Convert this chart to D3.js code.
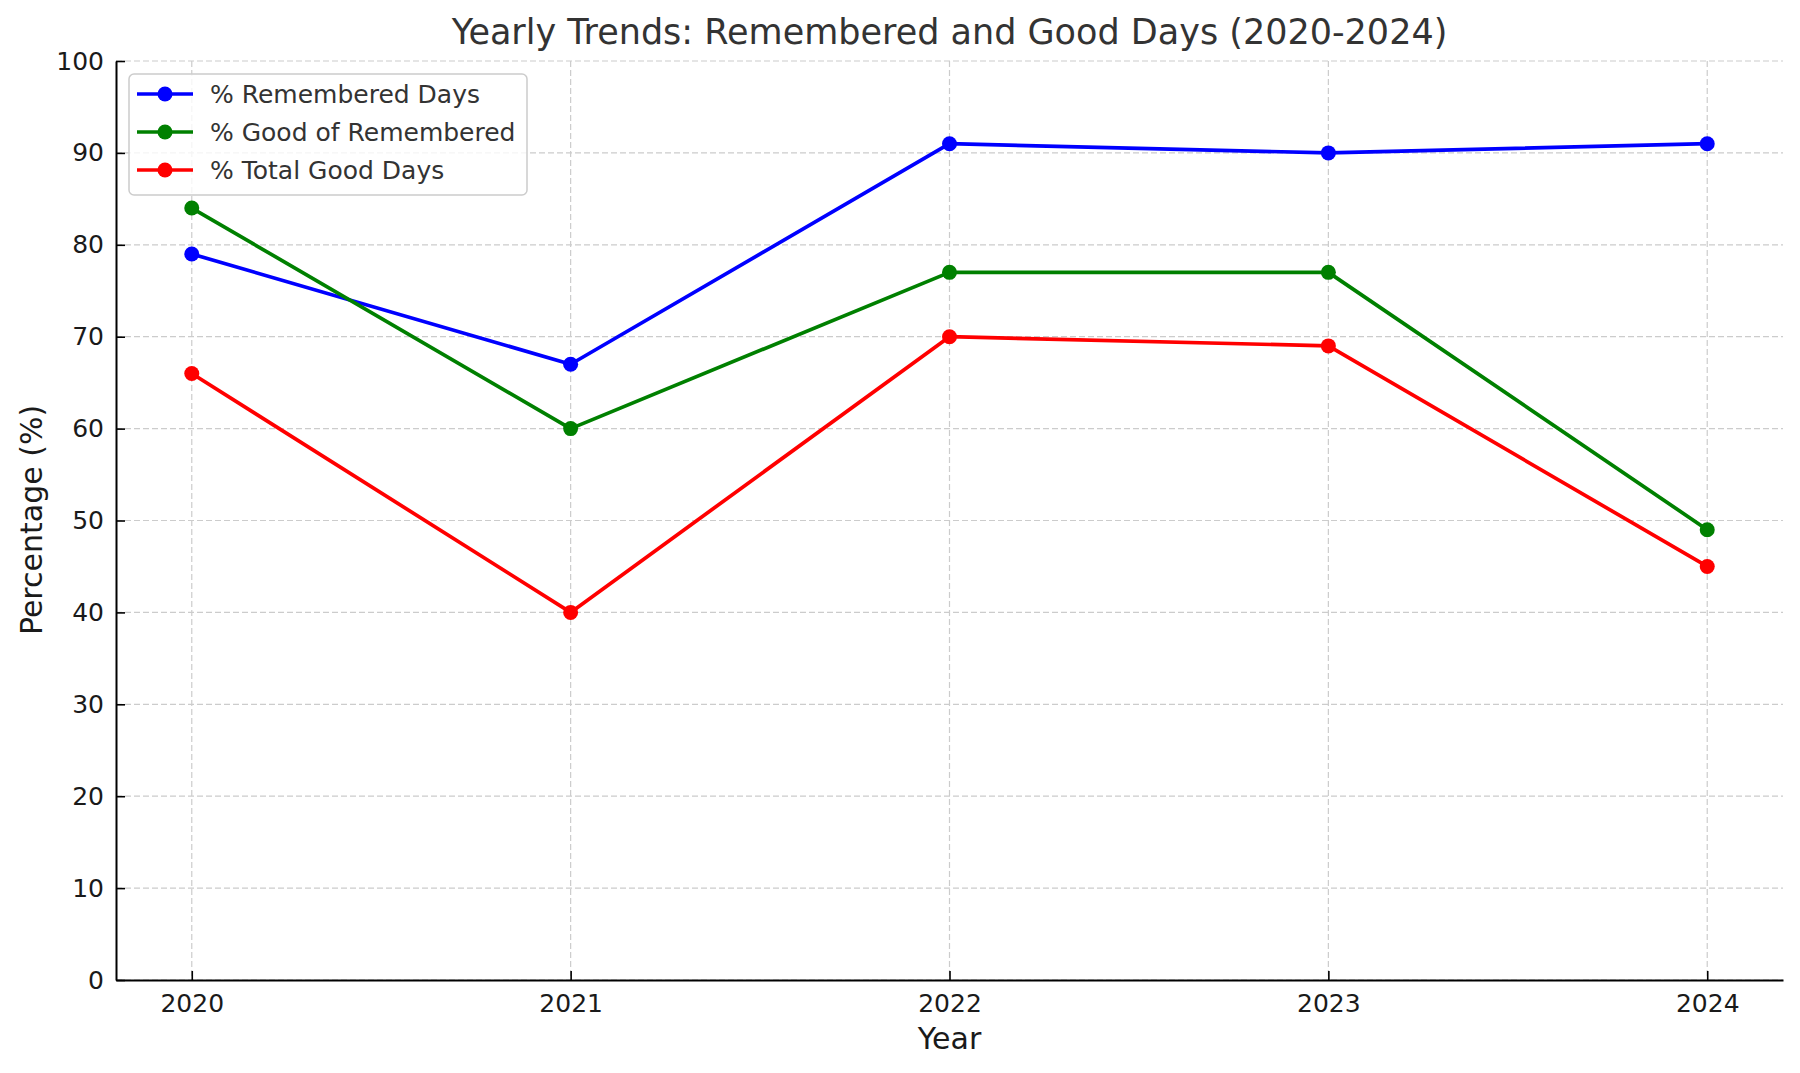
<!DOCTYPE html>
<html><head><meta charset="utf-8">
<script src="https://cdn.jsdelivr.net/npm/d3@7/dist/d3.min.js"></script>
<style>body{margin:0;background:#fff}svg{display:block}text{font-family:"DejaVu Sans",sans-serif}</style>
</head><body>
<svg id="c" width="1800" height="1073"></svg>
<script>
const years = [2020, 2021, 2022, 2023, 2024];
const remembered = [79, 67, 91, 90, 91];
const goodOfRemembered = [84, 60, 77, 77, 49];
const totalGood = [66, 40, 70, 69, 45];
const seriesNames = ["% Remembered Days", "% Good of Remembered", "% Total Good Days"];
const seriesColors = ["#0000ff", "#008000", "#ff0000"];
const yTicks = [0, 10, 20, 30, 40, 50, 60, 70, 80, 90, 100];

const series = [remembered, goodOfRemembered, totalGood].map((v, i) => ({name: seriesNames[i], color: seriesColors[i], values: v}));

const svg = d3.select("#c");
const L = 116, R = 1783, T = 61, B = 980;
const x = d3.scaleLinear().domain([2019.8, 2024.2]).range([L, R]);
const y = d3.scaleLinear().domain([0, 100]).range([B, T]);

// grid
const g = svg.append("g");
g.selectAll("line.gy").data(yTicks).join("line")
  .attr("x1", L).attr("x2", R).attr("y1", d => y(d)).attr("y2", d => y(d))
  .attr("stroke", "#cccccc").attr("stroke-width", 1.2).attr("stroke-dasharray", "6,3");
g.selectAll("line.gx").data(years).join("line")
  .attr("x1", d => x(d)).attr("x2", d => x(d)).attr("y1", T).attr("y2", B)
  .attr("stroke", "#cccccc").attr("stroke-width", 1.2).attr("stroke-dasharray", "6,3");

// axes
const xAxis = d3.axisBottom(x).tickValues(years).tickFormat(d3.format("d")).tickSizeInner(-9).tickSizeOuter(0).tickPadding(14);
const yAxis = d3.axisLeft(y).tickValues(yTicks).tickSizeInner(-9).tickSizeOuter(0).tickPadding(12);
const gx = svg.append("g").attr("transform", `translate(0,${B})`).call(xAxis);
const gy = svg.append("g").attr("transform", `translate(${L},0)`).call(yAxis);
[gx, gy].forEach(a => {
  a.select(".domain").attr("stroke", "#000").attr("stroke-width", 2);
  a.selectAll(".tick line").attr("stroke", "#000").attr("stroke-width", 1.6);
  a.selectAll(".tick text").attr("font-size", 25).attr("fill", "#1a1a1a").attr("font-family", "DejaVu Sans");
});

// lines
const line = d3.line().x((d, i) => x(years[i])).y(d => y(d));
series.forEach(s => {
  svg.append("path").attr("d", line(s.values)).attr("fill", "none")
    .attr("stroke", s.color).attr("stroke-width", 3.7).attr("stroke-linejoin", "round");
  svg.append("g").selectAll("circle").data(s.values).join("circle")
    .attr("cx", (d, i) => x(years[i])).attr("cy", d => y(d)).attr("r", 7.5).attr("fill", s.color);
});

// title & labels
svg.append("text").attr("x", (L + R) / 2).attr("y", 32).attr("text-anchor", "middle")
  .attr("dominant-baseline", "central").attr("font-size", 35).attr("fill", "#333")
  .text("Yearly Trends: Remembered and Good Days (2020-2024)");
svg.append("text").attr("x", (L + R) / 2).attr("y", 1038).attr("text-anchor", "middle")
  .attr("dominant-baseline", "central").attr("font-size", 30).attr("fill", "#1a1a1a").text("Year");
svg.append("text").attr("transform", `translate(31,520) rotate(-90)`).attr("text-anchor", "middle")
  .attr("dominant-baseline", "central").attr("font-size", 30).attr("fill", "#1a1a1a").text("Percentage (%)");

// legend
const lg = svg.append("g");
lg.append("rect").attr("x", 129).attr("y", 74).attr("width", 398).attr("height", 121)
  .attr("rx", 5).attr("fill", "#fff").attr("fill-opacity", 0.8).attr("stroke", "#cccccc").attr("stroke-width", 1.5);
series.forEach((s, i) => {
  const cy = 94 + i * 38;
  lg.append("line").attr("x1", 137).attr("x2", 193).attr("y1", cy).attr("y2", cy)
    .attr("stroke", s.color).attr("stroke-width", 3.7);
  lg.append("circle").attr("cx", 165).attr("cy", cy).attr("r", 7.5).attr("fill", s.color);
  lg.append("text").attr("x", 210).attr("y", cy).attr("dominant-baseline", "central")
    .attr("font-size", 25).attr("fill", "#333").text(s.name);
});
</script>
</body></html>
